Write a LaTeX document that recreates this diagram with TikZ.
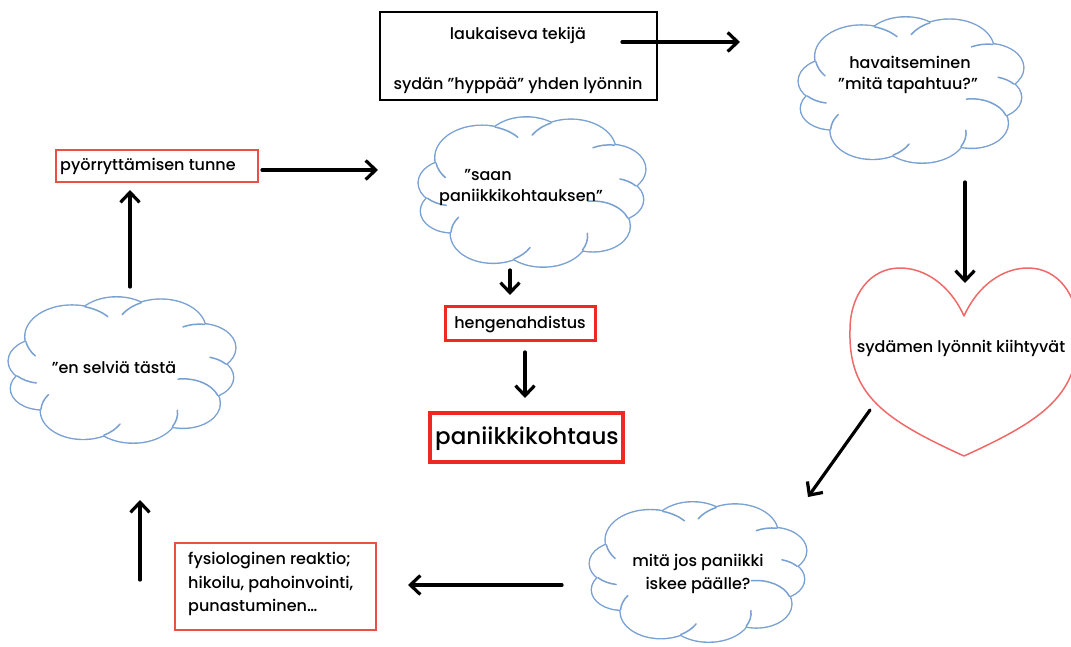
\documentclass[tikz,border=0pt]{standalone}
\usepackage{fontspec}
\setmainfont{Poppins}[UprightFont={* Medium}]
\usetikzlibrary{arrows.meta}

\definecolor{cloudblue}{RGB}{120,160,210}
\definecolor{softred}{RGB}{235,80,70}
\definecolor{brightred}{RGB}{240,40,35}
\definecolor{heartred}{RGB}{240,105,105}

\tikzset{
  txt/.style={inner sep=0pt, font=\fontsize{16}{19}\selectfont, text=black},
  cloudspot/.style={inner sep=0pt},
  hookline/.style={draw=cloudblue, line width=1.5pt, line cap=round},
  framebox/.style={draw=black, line width=1.3pt, inner sep=0pt},
  thinred/.style={draw=softred, line width=1.6pt, inner sep=0pt},
  boldred/.style={draw=brightred, line width=3pt, inner sep=0pt},
  heavyred/.style={draw=brightred, line width=4pt, inner sep=0pt},
  flow/.style={line width=3.2pt, line cap=round,
    -{Straight Barb[length=10pt,width=19pt,line width=3.2pt]}},
}

% puffs of a thought cloud in a [-1,1]x[-1,1] box: centre u / centre v / radius
\def\puffdata{-0.45/-0.45/0.42, -0.05/-0.60/0.38, 0.35/-0.55/0.40,
  0.70/-0.30/0.32, 0.72/0.10/0.28, 0.55/0.45/0.33, 0.10/0.58/0.40,
  -0.35/0.55/0.38, -0.72/0.25/0.28, -0.72/-0.12/0.30}

% \thoughtcloud{centre x}{centre y}{width}{height}
\newcommand\thoughtcloud[4]{%
  \begin{scope}[shift={(#1,#2)}, xscale=#3/2, yscale=#4/2]
    \draw[cloudblue, line width=2.8pt]
      foreach \u/\v/\r in \puffdata {(\u,\v) circle[radius=\r]};
    \fill[white]
      foreach \u/\v/\r in \puffdata {(\u,\v) circle[radius=\r]}
      (0,0) circle[radius=0.65];
    % each puff runs on a little way inside its neighbour
    \path[hookline]
      (-0.333,-0.854) arc[start angle=286, end angle=320, radius=0.42]
      (-0.865,-0.383) arc[start angle=171, end angle=142, radius=0.42]
      (0.172,-0.908)  arc[start angle=244, end angle=210, radius=0.40]
      (0.744,-0.617)  arc[start angle=278, end angle=242, radius=0.32]
      (0.934,-0.081)  arc[start angle=320, end angle=285, radius=0.28]
      (0.862,0.342)   arc[start angle=341, end angle=262, radius=0.33]
      (0.454,0.766)   arc[start angle=28,  end angle=-5,  radius=0.40]
      (-0.163,0.881)  arc[start angle=60,  end angle=28,  radius=0.38]
      (-0.730,0.530)  arc[start angle=183, end angle=215, radius=0.38]
      (-0.943,0.081)  arc[start angle=138, end angle=100, radius=0.30];
  \end{scope}}

\begin{document}
\begin{tikzpicture}[x=1pt,y=-1pt]
\useasboundingbox (0,0) rectangle (1071,647);

% --- shapes -------------------------------------------------------------
\node[framebox, minimum width=277pt, minimum height=88pt] (trigger) at (518.5,56) {};
\node[txt] (triggerA) at (518,35) {laukaiseva tekijä};
\node[txt] (triggerB) at (518,85) {sydän ”hyppää” yhden lyönnin};

\thoughtcloud{911}{90}{220}{148}
\node[cloudspot, minimum width=220pt, minimum height=148pt] (notice) at (911,90) {};
\node[txt] (noticeA) at (910,62) {havaitseminen};
\node[txt] (noticeB) at (908,85) {”mitä tapahtuu?”};

% heart
\draw[heartred, line width=1.5pt, line join=round]
  (964,316) .. controls (950,285) and (925,268) .. (900,268)
            .. controls (870,268) and (850,295) .. (850,330)
            .. controls (848,395) and (885,420) .. (964,456)
            .. controls (1043,420) and (1080,395) .. (1078,330)
            .. controls (1078,295) and (1058,268) .. (1028,268)
            .. controls (1003,268) and (978,285) .. (964,316) -- cycle;
\node[txt] (beats) at (961,348) {sydämen lyönnit kiihtyvät};

\thoughtcloud{698}{572}{212}{142}
\node[cloudspot, minimum width=212pt, minimum height=142pt] (whatif) at (698,572) {};
\node[txt] (whatifA) at (698,562) {mitä jos paniikki};
\node[txt] (whatifB) at (698,585) {iskee päälle?};

\node[thinred, minimum width=201pt, minimum height=87pt] (physio) at (275.5,586.5) {};
\node[txt, anchor=west] (physioA) at (188,560) {fysiologinen reaktio;};
\node[txt, anchor=west] (physioB) at (188,584) {hikoilu, pahoinvointi,};
\node[txt, anchor=west] (physioC) at (188,607) {punastuminen…};

\thoughtcloud{122}{370}{222}{148}
\node[cloudspot, minimum width=222pt, minimum height=148pt] (survive) at (122,370) {};
\node[txt] (surviveA) at (114,367) {”en selviä tästä};

\node[thinred, minimum width=202pt, minimum height=32pt] (dizzy) at (157,166) {};
\node[txt] (dizzyA) at (148,166) {pyörryttämisen tunne};

\thoughtcloud{532}{192}{222}{152}
\node[cloudspot, minimum width=222pt, minimum height=152pt] (attack) at (532,192) {};
\node[txt] (attackA) at (488,175) {”saan};
\node[txt] (attackB) at (521,197) {paniikkikohtauksen”};

\node[boldred, minimum width=150pt, minimum height=34pt] (breath) at (520,323) {};
\node[txt] (breathA) at (520,325) {hengenahdistus};

\node[heavyred, minimum width=193pt, minimum height=49pt] (panic) at (526.5,437.5) {};
\node[inner sep=0pt, font=\fontsize{23}{27}\selectfont] (panicA) at (527,439) {paniikkikohtaus};

% --- connector ends ------------------------------------------------------
\coordinate (a1s) at (622,42);  \coordinate (a1e) at (740,42);
\coordinate (a2s) at (965,182); \coordinate (a2e) at (965,283);
\coordinate (a3s) at (870,410); \coordinate (a3e) at (808,497);
\coordinate (a4s) at (562,585); \coordinate (a4e) at (408,585);
\coordinate (a5s) at (140,580); \coordinate (a5e) at (140,500);
\coordinate (a6s) at (130,287); \coordinate (a6e) at (130,190);
\coordinate (a7s) at (262,170); \coordinate (a7e) at (378,170);
\coordinate (a8s) at (510,270); \coordinate (a8e) at (510,295);
\coordinate (a9s) at (525,352); \coordinate (a9e) at (525,398);

% --- connectors ----------------------------------------------------------
\draw[flow] (a1s) -- (a1e);
\draw[flow] (a2s) -- (a2e);
\draw[flow] (a3s) -- (a3e);
\draw[flow] (a4s) -- (a4e);
\draw[flow] (a5s) -- (a5e);
\draw[flow] (a6s) -- (a6e);
\draw[flow] (a7s) -- (a7e);
\draw[flow] (a8s) -- (a8e);
\draw[flow] (a9s) -- (a9e);
\end{tikzpicture}
\end{document}
